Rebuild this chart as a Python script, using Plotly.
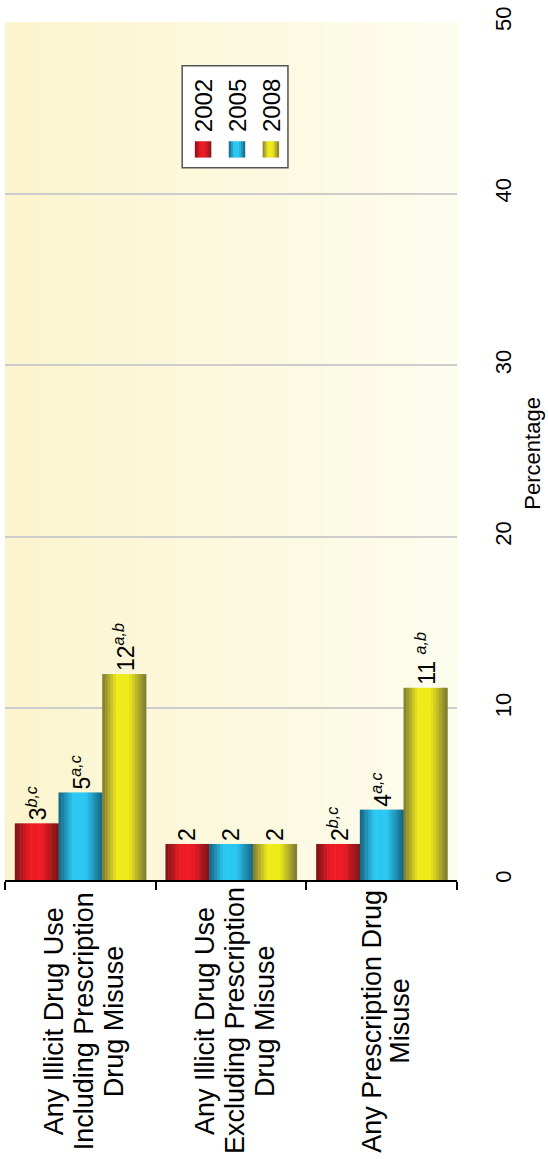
"""
Rotated grouped bar chart: drug use / misuse percentages by year.
"""
import plotly.graph_objects as go

# --- data -------------------------------------------------------------
categories = ['Including', 'Excluding', 'Prescription']
category_lines = [
    ['Any Illicit Drug Use', 'Including Prescription', 'Drug Misuse'],
    ['Any Illicit Drug Use', 'Excluding Prescription', 'Drug Misuse'],
    ['Any Prescription Drug', 'Misuse'],
]
years = ['2002', '2005', '2008']
values_2002 = [3.3, 2.1, 2.1]
values_2005 = [5.1, 2.1, 4.1]
values_2008 = [12.0, 2.1, 11.2]
labels_2002 = ['3<sup><i>b,c</i></sup>', '2', '2<sup><i>b,c</i></sup>']
labels_2005 = ['5<sup><i>a,c</i></sup>', '2', '4<sup><i>a,c</i></sup>']
labels_2008 = ['12<sup><i>a,b</i></sup>', '2', '11 <sup><i>a,b</i></sup>']
y_ticks = [0, 10, 20, 30, 40, 50]

# --- style ------------------------------------------------------------
FONT = 'Liberation Sans, Arial, sans-serif'
SHADES = {  # (dark edge, bright centre)
    '2002': ('#7A1418', '#ED1C24'),
    '2005': ('#15627E', '#2CC8F4'),
    '2008': ('#7C7834', '#EFEA1A'),
}
BAR_W = 0.29
OFFSETS = [-0.435, -0.145, 0.145]
N_SLICES = 16


def mix(c1, c2, f):
    a = [int(c1[i:i + 2], 16) for i in (1, 3, 5)]
    b = [int(c2[i:i + 2], 16) for i in (1, 3, 5)]
    return '#' + ''.join(f'{round(x + (y - x) * f):02X}' for x, y in zip(a, b))


def shade(t):
    """Brightness profile across a cylinder-like bar (0 = edge, 1 = lit)."""
    if t < 0.33:
        return t / 0.33
    if t < 0.62:
        return 1.0
    return max(0.0, 1 - (t - 0.62) / 0.38)


fig = go.Figure()

series = [(years[0], values_2002, labels_2002),
          (years[1], values_2005, labels_2005),
          (years[2], values_2008, labels_2008)]

for (year, vals, labs), off in zip(series, OFFSETS):
    dark, bright = SHADES[year]
    sw = BAR_W / N_SLICES
    # shaded slices make up one bar
    for k in range(N_SLICES):
        t = (k + 0.5) / N_SLICES
        fig.add_trace(go.Bar(
            x=categories, y=vals,
            width=sw * 1.2, offset=off + k * sw,
            marker=dict(color=mix(dark, bright, shade(t)), line_width=0),
            showlegend=False, hoverinfo='skip'
        ))
    # invisible bar carrying the value labels
    fig.add_trace(go.Bar(
        x=categories, y=vals, width=BAR_W, offset=off,
        marker=dict(color='rgba(0,0,0,0)', line_width=0),
        text=labs, textposition='outside', textangle=-90,
        constraintext='none',
        outsidetextfont=dict(family=FONT, size=23, color='black'),
        cliponaxis=False, name=year,
        hovertemplate='%{x}<br>' + year + ': %{y}%<extra></extra>'
    ))

shapes = []
# pale yellow gradient background
n_bg = 24
for i in range(n_bg):
    shapes.append(dict(
        type='rect', xref='paper', yref='paper',
        x0=i / n_bg, x1=(i + 1) / n_bg + 0.002, y0=0, y1=1,
        fillcolor=mix('#FBF4CE', '#FDFDEE', i / (n_bg - 1)),
        line_width=0, layer='below'
    ))

# legend drawn by hand (rotated like the rest of the chart)
shapes.append(dict(type='rect', xref='paper', yref='paper',
                   x0=0.392, x1=0.626, y0=0.830, y1=0.949,
                   fillcolor='white', line=dict(color='#555555', width=1.5)))
annotations = []
for j, year in enumerate(years):
    cx = 0.438 + j * 0.075
    dark, bright = SHADES[year]
    for k in range(8):
        t = (k + 0.5) / 8
        shapes.append(dict(type='rect', xref='paper', yref='paper',
                           x0=cx - 0.018 + k * 0.0045, x1=cx - 0.018 + (k + 1) * 0.0045 + 0.0005,
                           y0=0.842, y1=0.861,
                           fillcolor=mix(dark, bright, shade(t)), line_width=0))
    annotations.append(dict(
        text=year, x=cx, y=0.903, xref='paper', yref='paper',
        textangle=-90, showarrow=False, xanchor='center', yanchor='middle',
        font=dict(family=FONT, size=24, color='black')
    ))

# category labels, one line at a time, rotated
for cat, lines in zip(categories, category_lines):
    n = len(lines)
    step = 30 if n == 3 else 28
    for i, line in enumerate(lines):
        annotations.append(dict(
            text=line, x=cat, xref='x', y=0, yref='paper',
            xshift=4 + (i - (n - 1) / 2) * step, yshift=-141,
            textangle=-90, showarrow=False,
            xanchor='center', yanchor='middle',
            font=dict(family=FONT, size=27, color='black')
        ))

# value-axis title (rotated, right side)
annotations.append(dict(
    text='Percentage', x=1.168, y=0.498, xref='paper', yref='paper',
    textangle=-90, showarrow=False, xanchor='center', yanchor='middle',
    font=dict(family=FONT, size=22, color='black')
))

fig.update_layout(
    width=548, height=1159,
    barmode='overlay',
    showlegend=False,
    paper_bgcolor='white',
    plot_bgcolor='#FCF9E0',
    margin=dict(l=5, r=91, t=22, b=279, autoexpand=False),
    shapes=shapes,
    annotations=annotations,
    font=dict(family=FONT, color='black'),
)
fig.update_xaxes(
    type='category', range=[-0.5, 2.5], automargin=False,
    showticklabels=False, tickson='boundaries',
    ticks='outside', ticklen=8, tickwidth=1.5, tickcolor='black',
    showline=True, linecolor='black', linewidth=1.5,
    showgrid=False, zeroline=False
)
fig.update_yaxes(
    range=[0, 50], tickvals=y_ticks, side='right', automargin=False,
    tickangle=-90, tickfont=dict(family=FONT, size=22),
    ticklabelstandoff=31,
    showgrid=True, gridcolor='#CCCCCC', gridwidth=1.5,
    showline=False, zeroline=False, ticks=''
)

# drop the page's default body margin so the figure fills the window
fig.write_html('out.html', config={'displayModeBar': False},
               post_script="document.body.style.margin='0';"
                           "document.body.style.overflow='hidden';")
